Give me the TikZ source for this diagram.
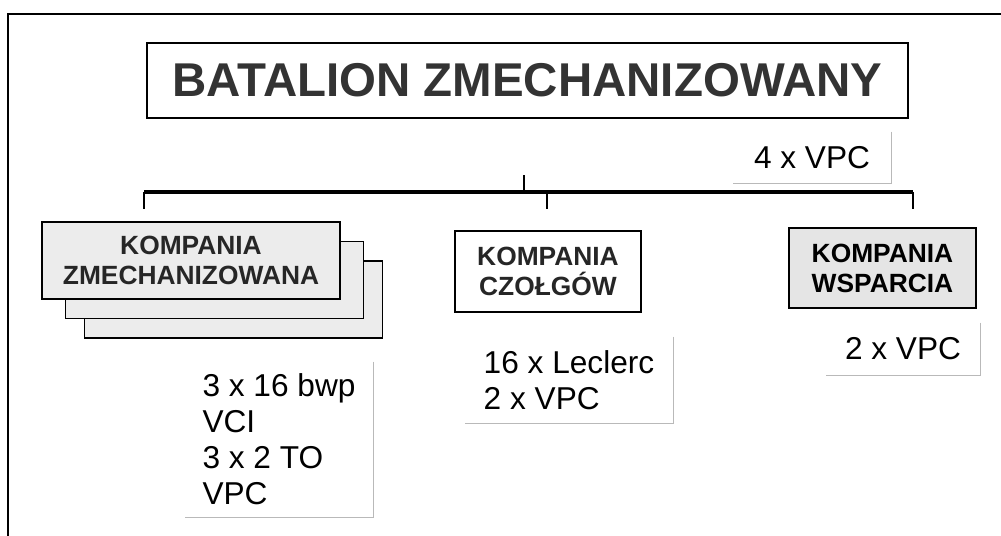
\documentclass[tikz,border=0pt]{standalone}
\usepackage{fontspec}
\setmainfont{Liberation Sans}
\usepackage{xcolor}

\begin{document}
\begin{tikzpicture}[
  x=0.02cm, y=-0.02cm,
  frame/.style={line width=1.2pt},
  title/.style={draw, line width=1.1pt, fill=white, minimum width=15.22cm,
                minimum height=1.5cm, font=\bfseries\fontsize{27}{30}\selectfont,
                text=black!80},
  unit/.style={draw, line width=1.1pt, fill=white, minimum width=5.96cm,
               minimum height=1.54cm, align=center, text=black!85,
               font=\bfseries\fontsize{15}{17}\selectfont},
  kit/.style={align=left, inner sep=0pt, font=\fontsize{18}{20.5}\selectfont},
  shadowline/.style={draw=gray!55, line width=0.7pt},
  bus/.style={line width=2pt},
  tick/.style={line width=1.2pt}
]
\useasboundingbox (0,0) rectangle (1001,536);

% Outer frame (only top and left edge fall inside the page)
\draw[frame] (8,536) |- (1001,14);

% Battalion
\node[title] (bn) at (527.5,80.5) {BATALION ZMECHANIZOWANY};

% Companies, the mechanised one as a stack of three
\node[unit, fill=gray!15] (mech3) at (233.5,299.5) {};
\node[unit, fill=gray!15] (mech2) at (214.5,280)   {};
\node[unit, fill=gray!15] (mech)  at (191,260.5)   {KOMPANIA\\ZMECHANIZOWANA};
\node[unit, minimum width=3.72cm, minimum height=1.62cm] (tanks) at (548,271.5)
  {KOMPANIA\\CZOŁGÓW};
\node[unit, minimum width=3.74cm, minimum height=1.6cm, fill=gray!20, text=black]
  (support) at (882.5,268) {KOMPANIA\\WSPARCIA};

% Equipment lists
\node[kit, minimum width=3.16cm, minimum height=1.02cm]
  (bnkit) at (812,157.5) {4 x VPC};
\node[kit, minimum width=3.76cm, minimum height=3.1cm]
  (mechkit) at (279,439.5) {3 x 16 bwp\\VCI\\3 x 2 TO\\VPC};
\node[kit, minimum width=4.16cm, minimum height=1.72cm]
  (tankskit) at (569,380) {16 x Leclerc\\2 x VPC};
\node[kit, minimum width=3.08cm, minimum height=1.04cm]
  (supportkit) at (903,349) {2 x VPC};

\foreach \k in {bnkit, mechkit, tankskit, supportkit}{
  \draw[shadowline] (\k.north east) -- (\k.south east) -- (\k.south west);
}

% Bracket under the battalion
\coordinate (busT) at (524,192);
\coordinate (busL) at (144,192);
\coordinate (busM) at (547,192);
\coordinate (busR) at (913,192);
\draw[tick] (busT) -- ++(0,-17);
\foreach \c in {busL, busM, busR}{
  \draw[tick] (\c) -- ++(0,17);
}
\draw[bus] (busL) -- (busR);

\end{tikzpicture}
\end{document}
